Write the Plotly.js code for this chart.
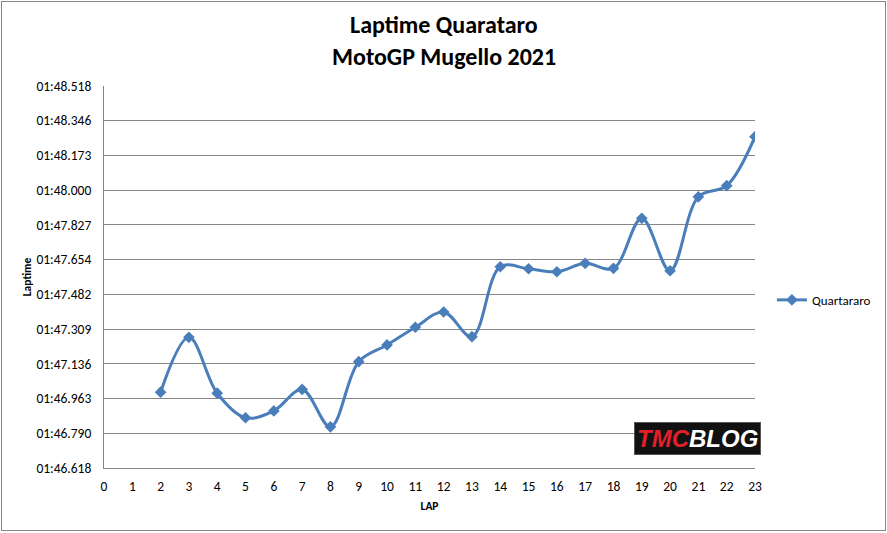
<!DOCTYPE html>
<html>
<head>
<meta charset="utf-8">
<script src="https://cdn.plot.ly/plotly-3.0.1.min.js"></script>
<style>
html,body{margin:0;padding:0;background:#fff;}
#wrap{position:relative;width:887px;height:533px;}
#chart{position:absolute;left:0;top:0;width:887px;height:533px;}
#frame{position:absolute;left:1px;top:1px;width:883px;height:528px;border:1px solid #868686;pointer-events:none;}
</style>
</head>
<body>
<div id="wrap"><div id="chart"></div><div id="frame"></div></div>
<script>
// Data
const laps = [2,3,4,5,6,7,8,9,10,11,12,13,14,15,16,17,18,19,20,21,22,23];
// lap times in seconds (1:46.995 -> 106.995)
const lapTimes = [106.995,107.268,106.990,106.868,106.902,107.009,106.823,107.147,107.230,107.318,107.394,107.271,107.619,107.609,107.594,107.636,107.611,107.860,107.599,107.967,108.022,108.266];
const yTickLabels = ["01:46.618","01:46.790","01:46.963","01:47.136","01:47.309","01:47.482","01:47.654","01:47.827","01:48.000","01:48.173","01:48.346","01:48.518"];
const xTickLabels = ["0","1","2","3","4","5","6","7","8","9","10","11","12","13","14","15","16","17","18","19","20","21","22","23"];
const seriesName = "Quartararo";
const titleLines = ["Laptime Quarataro", "MotoGP Mugello 2021"];

function parseLabel(s){const p=s.split(":");return parseInt(p[0],10)*60+parseFloat(p[1]);}
const yTickVals = yTickLabels.map(parseLabel);
const xTickVals = xTickLabels.map(Number);

const font = "Carlito, Lato, 'Open Sans', sans-serif";
const blue = "#4a7ebb";

const trace = {
  x: laps, y: lapTimes, name: seriesName, type: "scatter", mode: "lines+markers",
  line: {color: blue, width: 3, shape: "spline", smoothing: 1},
  marker: {symbol: "diamond", size: 9, color: blue}
};

const layout = {
  width: 887, height: 533,
  margin: {l: 104, r: 132, t: 86, b: 65, autoexpand: false},
  paper_bgcolor: "#fff", plot_bgcolor: "#fff",
  font: {family: font, size: 13.5, color: "#000"},
  xaxis: {range: [0, 23], tickvals: xTickVals, ticktext: xTickLabels, showgrid: false, zeroline: false,
          showline: true, linecolor: "#868686", linewidth: 1, ticks: "", tickfont: {size: 13.5},
          ticklabelstandoff: 6, automargin: false,
          title: {text: "<b>LAP</b>", font: {size: 11.5}, standoff: 7}},
  yaxis: {range: [yTickVals[0], yTickVals[yTickVals.length-1]], tickvals: yTickVals, ticktext: yTickLabels,
          showgrid: true, gridcolor: "#868686", gridwidth: 1, zeroline: false,
          showline: true, linecolor: "#868686", linewidth: 1, ticks: "", tickfont: {size: 13.5},
          ticklabelstandoff: 9, automargin: false,
          title: {text: "<b>Laptime</b>", font: {size: 11.5}, standoff: 2}},
  showlegend: true,
  legend: {x: 1.026, y: 0.44, xanchor: "left", yanchor: "middle", font: {size: 13}, bgcolor: "rgba(0,0,0,0)",
           itemwidth: 30},
  annotations: [
    {xref: "paper", yref: "paper", x: 0.522, y: 1.1597, xanchor: "center", yanchor: "middle", showarrow: false,
     text: "<b>" + titleLines[0] + "</b>", font: {family: font, size: 24, color: "#000"}},
    {xref: "paper", yref: "paper", x: 0.522, y: 1.0785, xanchor: "center", yanchor: "middle", showarrow: false,
     text: "<b>" + titleLines[1] + "</b>", font: {family: font, size: 24, color: "#000"}},
    {xref: "paper", yref: "paper", x: 0.912, y: 0.078, xanchor: "center", yanchor: "middle",
     text: "<b><i><span style='color:#e0202a'>TMC</span>BLOG</i></b>", showarrow: false,
     font: {family: "'Liberation Sans', sans-serif", size: 24, color: "#fff"},
     bgcolor: "#111", bordercolor: "#555", borderwidth: 1, borderpad: 2}
  ]
};

Plotly.newPlot("chart", [trace], layout, {displayModeBar: false, staticPlot: true});
</script>
</body>
</html>
